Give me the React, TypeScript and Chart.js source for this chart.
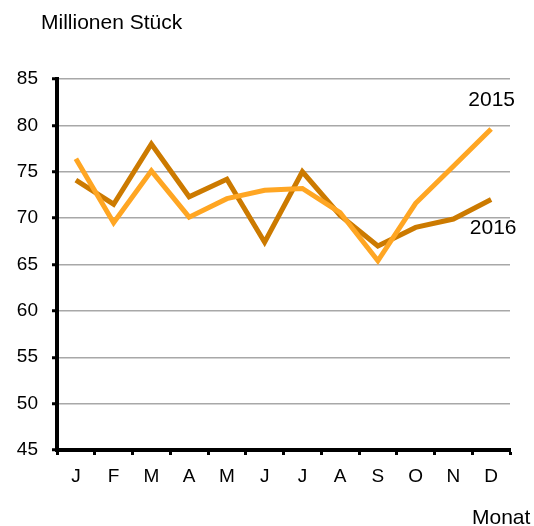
import React, { useEffect, useRef } from "react";
import { Chart, registerables } from "chart.js";

Chart.register(...registerables);

const months = ["J", "F", "M", "A", "M", "J", "J", "A", "S", "O", "N", "D"];
const series2015 = [76.4, 69.5, 75.1, 70.1, 72.1, 73.0, 73.2, 70.6, 65.4, 71.6, 75.6, 79.6];
const series2016 = [74.1, 71.5, 78.0, 72.3, 74.2, 67.4, 75.0, 70.3, 67.0, 69.0, 69.9, 72.0];
const yMin = 45;
const yMax = 85;
const yStep = 5;
const yTitle = "Millionen Stück";
const xTitle = "Monat";
const label2015 = "2015";
const label2016 = "2016";

const FONT = "'Liberation Sans', Arial, sans-serif";
const COLOR_2015 = "#FFA623";
const COLOR_2016 = "#CC7A00";

const textPlugin = {
  id: "textPlugin",
  afterDraw(chart: any) {
    const ctx = chart.ctx;
    ctx.save();
    ctx.fillStyle = "#000";
    ctx.font = `21px ${FONT}`;
    ctx.textBaseline = "alphabetic";
    ctx.textAlign = "left";
    ctx.fillText(yTitle, 41, 29);
    ctx.fillText(xTitle, 472, 524);
    const m0 = chart.getDatasetMeta(0).data;
    const m1 = chart.getDatasetMeta(1).data;
    const p15 = m0[m0.length - 1];
    const p16 = m1[m1.length - 1];
    ctx.textAlign = "center";
    ctx.fillText(label2015, p15.x + 0.5, p15.y - 23);
    ctx.fillText(label2016, p16.x + 2, p16.y + 34);
    ctx.restore();
  },
};

export default function App() {
  const ref = useRef<HTMLCanvasElement | null>(null);
  useEffect(() => {
    if (!ref.current) return;
    const chart = new Chart(ref.current, {
      type: "line",
      data: {
        labels: months,
        datasets: [
          {
            label: label2015,
            data: series2015,
            borderColor: COLOR_2015,
            backgroundColor: COLOR_2015,
            borderWidth: 5,
            pointRadius: 0,
            tension: 0,
            borderJoinStyle: "miter",
          },
          {
            label: label2016,
            data: series2016,
            borderColor: COLOR_2016,
            backgroundColor: COLOR_2016,
            borderWidth: 5,
            pointRadius: 0,
            tension: 0,
            borderJoinStyle: "miter",
          },
        ],
      },
      options: {
        responsive: false,
        animation: false,
        layout: { padding: { left: 0, right: 24, top: 79, bottom: 0 } },
        plugins: { legend: { display: false }, tooltip: { enabled: false } },
        scales: {
          x: {
            offset: true,
            grid: {
              offset: true,
              drawOnChartArea: false,
              tickColor: "#000",
              tickWidth: 3,
              tickLength: 5,
            },
            border: { color: "#000", width: 4 },
            ticks: {
              color: "#000",
              font: { family: FONT, size: 19 },
              padding: 10,
              maxRotation: 0,
              autoSkip: false,
            },
            afterFit(scale: any) {
              scale.height = 76;
            },
          },
          y: {
            min: yMin,
            max: yMax,
            grid: {
              color: "#A8A8A8",
              lineWidth: 1.5,
              tickColor: "#000",
              tickWidth: 3,
              tickLength: 5,
            },
            border: { color: "#000", width: 4 },
            ticks: {
              stepSize: yStep,
              color: "#000",
              font: { family: FONT, size: 19 },
              padding: 14,
            },
            afterFit(scale: any) {
              scale.width = 57;
            },
          },
        },
      },
      plugins: [textPlugin],
    });
    return () => chart.destroy();
  }, []);
  return (
    <div style={{ position: "absolute", left: 0, top: 0, width: 534, height: 526, background: "#fff" }}>
      <canvas ref={ref} width={534} height={526} />
    </div>
  );
}
